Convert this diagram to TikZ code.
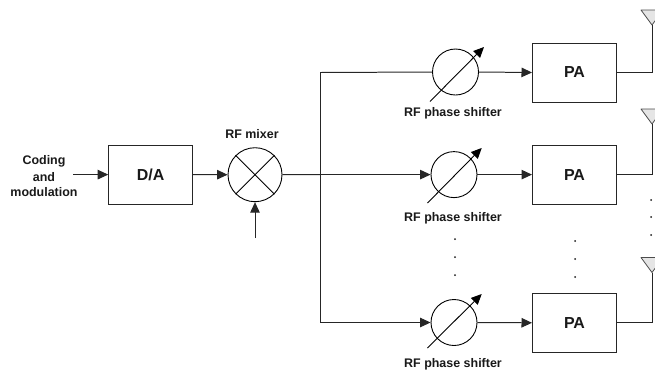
\documentclass[tikz,border=0pt]{standalone}
\usepackage{fontspec}
\setmainfont{Liberation Sans}
\usetikzlibrary{arrows.meta}
\tikzset{
  wire/.style={line width=1pt,draw=black!85},
  tip/.style={-{Triangle[length=10.5bp,width=9.5bp]}},
  flow/.style={wire,tip},
  blockbox/.style={draw=black!85,line width=1pt,minimum width=84bp,minimum height=59bp,inner sep=0pt,font=\fontsize{16}{18}\selectfont\bfseries,text=black!90},
  shifter/.style={circle,draw=black,line width=0.9pt,minimum size=46bp,inner sep=0pt},
  mixer/.style={circle,draw=black,line width=0.9pt,minimum size=54bp,inner sep=0pt},
  lbl/.style={font=\fontsize{12.5}{14}\selectfont\bfseries,inner sep=0pt,text=black!90,align=center},
  dotm/.style={circle,fill=black!90,minimum size=2bp,inner sep=0pt},
  antenna/.style={draw=black!70,fill=black!10,line width=0.8pt,line join=round}
}
\begin{document}
\begin{tikzpicture}[x=1bp,y=-1bp]
\useasboundingbox (0,0) rectangle (655,371);
\clip (0,0) rectangle (655,371);
% blocks
\node[blockbox] (da) at (150.7,174.6) {D/A};
\node[mixer] (mx) at (255,174.7) {};
\node[shifter] (ps1) at (455.5,72) {};
\node[shifter] (ps2) at (454,174.6) {};
\node[shifter] (ps3) at (454,322.5) {};
\node[blockbox] (pa1) at (574.5,72.5) {PA};
\node[blockbox] (pa2) at (574.5,174.6) {PA};
\node[blockbox] (pa3) at (574.5,322.8) {PA};
% mixer cross
\draw[line width=0.9pt] (mx.north west) -- (mx.south east);
\draw[line width=0.9pt] (mx.north east) -- (mx.south west);
% labels
\node[lbl] (l1) at (453,113) {RF phase shifter};
\node[lbl] (l2) at (453,218) {RF phase shifter};
\node[lbl] (l3) at (453,364) {RF phase shifter};
\node[lbl] (lm) at (252,134) {RF mixer};
\node[lbl] (c1) at (44,161) {Coding};
\node[lbl] (c2) at (44,177) {and};
\node[lbl] (c3) at (44,192) {modulation};
% named free ends
\coordinate (in) at (73,174.6);
\coordinate (lo) at (255,238);
\coordinate (bus1) at (320,72.5);
\coordinate (bus2) at (320,174.6);
\coordinate (bus3) at (320,322.5);
% connectors
\draw[flow] (in) -- (da.west);
\draw[flow] (da.east) -- (mx.west);
\draw[flow] (lo) -- (mx.south);
\draw[wire] (mx.east) -- (bus2);
\draw[wire] (bus1) -- (bus3);
\draw[wire] (bus1) -- (ps1.west);
\draw[flow] (bus2) -- (ps2.west);
\draw[flow] (bus3) -- (ps3.west);
\draw[flow] (ps1.east) -- (pa1.west);
\draw[flow] (ps2.east) -- (pa2.west);
\draw[flow] (ps3.east) -- (pa3.west);
% tuning arrows
\draw[line width=0.9pt,tip] (430,101.5) -- (484,47);
\draw[line width=0.9pt,tip] (427.5,203) -- (481.7,148);
\draw[line width=0.9pt,tip] (427.5,348) -- (481.7,294);
% antennas
\foreach \n/\yy/\py in {1/10/pa1,2/109/pa2,3/257.5/pa3}{
  \coordinate (ant\n) at (652,\yy+15);
  \draw[antenna] (641,\yy) -- (663,\yy) -- (ant\n) -- cycle;
  \draw[wire] (\py.east) -| (ant\n);
}
% ellipsis dots
\foreach \x/\yy in {455/239,455/257,455/275,575/241,575/259,575/277,651/200,651/217,651/235}
  \node[dotm] at (\x,\yy) {};
\end{tikzpicture}
\end{document}
